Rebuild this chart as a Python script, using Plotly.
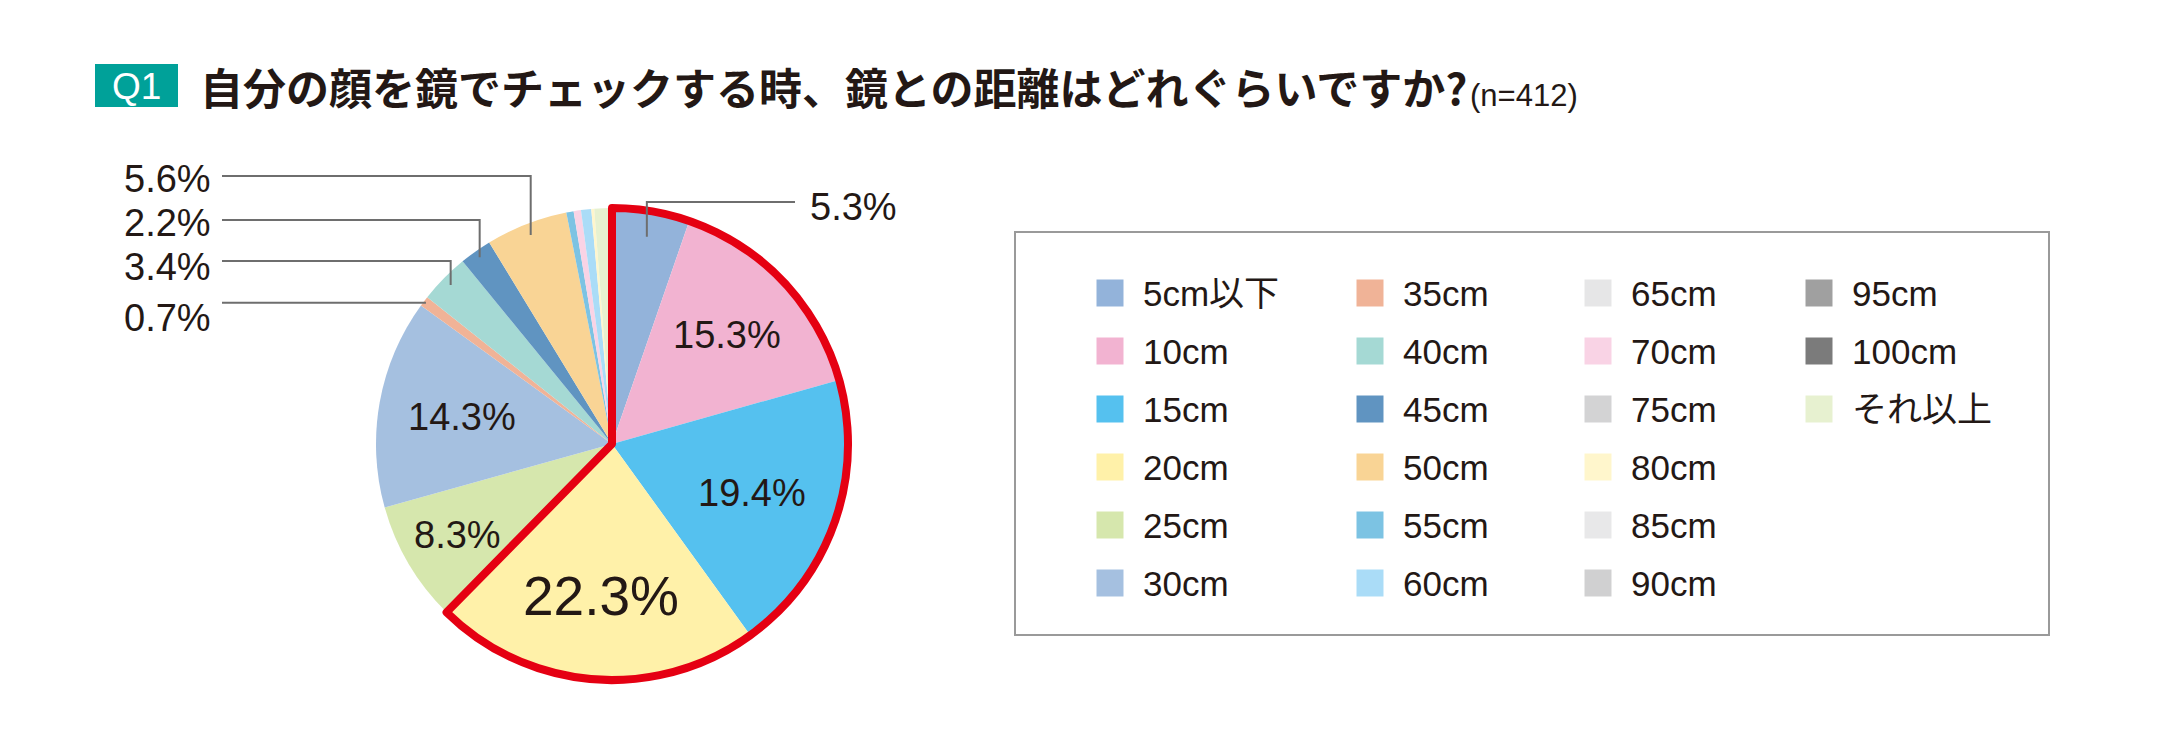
import math
import plotly.graph_objects as go

W, H = 2159, 740

# ---------------- data ----------------
title_text = "自分の顔を鏡でチェックする時、鏡との距離はどれぐらいですか?"
n_text = "(n=412)"
q_label = "Q1"

categories = ["5cm以下", "10cm", "15cm", "20cm", "25cm", "30cm", "35cm",
              "40cm", "45cm", "50cm", "55cm", "60cm", "65cm", "70cm",
              "75cm", "80cm", "85cm", "90cm", "95cm", "100cm", "それ以上"]
values = [5.3, 15.3, 19.4, 22.3, 8.3, 14.3, 0.7,
          3.4, 2.2, 5.6, 0.5, 0.7, 0.0, 0.5,
          0.0, 0.2, 0.0, 0.0, 0.0, 0.0, 1.2]
colors = ["#93b3da", "#f2b3d1", "#55c1ef", "#fff1a9", "#d6e7ad", "#a5c0e0", "#f0b397",
          "#a5d9d4", "#6094c1", "#f9d495", "#7cc3e3", "#aadcf7", "#e6e6e7", "#f9d3e5",
          "#d3d3d4", "#fff6cc", "#e8e8e9", "#d0d0d1", "#a0a0a0", "#7b7b7b", "#e7f1d0"]
# order in which the slices are drawn clockwise from 12 o'clock
draw_order = ["5cm以下", "10cm", "15cm", "20cm", "25cm", "30cm", "35cm",
              "40cm", "45cm", "50cm", "55cm", "70cm", "60cm", "65cm",
              "75cm", "80cm", "85cm", "90cm", "95cm", "100cm", "それ以上"]
highlighted = ["5cm以下", "10cm", "15cm", "20cm"]

# ---------------- style / layout ----------------
TXT = "#231815"
FONT = "Liberation Sans, Noto Sans CJK JP, sans-serif"
JFONT = "Noto Sans CJK JP, sans-serif"
RED = "#e50012"
LEAD = "#6e6e6e"
cx, cy, R = 612, 444, 236

inside_labels = {"10cm": (0.67, 38), "15cm": (0.63, 38), "20cm": (0.645, 55),
                 "25cm": (0.76, 38), "30cm": (0.645, 38)}
# category: (line y, label y, leader end radius fraction)
left_labels = [("50cm", 176, 179, 0.95), ("45cm", 220, 223, 0.97),
               ("40cm", 261, 267, 0.96), ("35cm", None, 318, 0.99)]
left_text_x, left_line_x = 122, 222
right_label = ("5cm以下", 202, 207, 0.89)
right_line_x, right_text_x = 795, 808

legend_rows = 6
legend_col_x = [1110, 1370, 1598, 1819]
legend_row_y = [293, 351, 409, 467, 525, 583]

val = dict(zip(categories, values))
col = dict(zip(categories, colors))
total = sum(values)

# mid angles (clockwise from top) in degrees
mid = {}
cum = 0.0
for c in draw_order:
    mid[c] = 360.0 * (cum + val[c] / 2) / total
    cum += val[c]


def polar(c, frac):
    a = math.radians(mid[c])
    return cx + frac * R * math.sin(a), cy - frac * R * math.cos(a)


def pct(c):
    return f"{val[c]:.1f}%"


dom_x = [(cx - R) / W, (cx + R) / W]
dom_y = [1 - (cy + R) / H, 1 - (cy - R) / H]

fig = go.Figure()

fig.add_trace(go.Pie(
    labels=draw_order, values=[val[c] for c in draw_order],
    marker=dict(colors=[col[c] for c in draw_order], line=dict(width=0)),
    sort=False, direction="clockwise", rotation=0,
    textinfo="none", hoverinfo="label+percent", showlegend=False,
    domain=dict(x=dom_x, y=dom_y),
))

hi_sum = sum(val[c] for c in highlighted)
fig.add_trace(go.Pie(
    labels=["highlight", "rest"], values=[hi_sum, total - hi_sum],
    marker=dict(colors=["rgba(0,0,0,0)", "rgba(0,0,0,0)"],
                line=dict(color=[RED, "rgba(0,0,0,0)"], width=[8, 0])),
    sort=False, direction="clockwise", rotation=0,
    textinfo="none", hoverinfo="skip", showlegend=False,
    domain=dict(x=dom_x, y=dom_y),
))

# legend swatches (column-major)
lx = [legend_col_x[i // legend_rows] for i in range(len(categories))]
ly = [legend_row_y[i % legend_rows] for i in range(len(categories))]
fig.add_trace(go.Scatter(
    x=lx, y=ly, mode="markers",
    marker=dict(symbol="square", size=27, color=colors, line=dict(width=0)),
    hoverinfo="skip", showlegend=False,
))

annotations = []
shapes = []

for c, x, y in zip(categories, lx, ly):
    annotations.append(dict(x=x + 31, y=y, xref="x", yref="y", text=c,
                            showarrow=False, xanchor="left", yanchor="middle",
                            font=dict(family=FONT, size=35, color=TXT)))

# inside labels
for c, (frac, size) in inside_labels.items():
    x, y = polar(c, frac)
    annotations.append(dict(x=x, y=y, xref="x", yref="y", text=pct(c),
                            showarrow=False, xanchor="center", yanchor="middle",
                            font=dict(family=FONT, size=size, color=TXT)))

# left outside labels with elbow leaders
for c, line_y, lab_y, frac in left_labels:
    ex, ey = polar(c, frac)
    if line_y is None:
        path = f"M {left_line_x},{ey} L {ex},{ey}"
    else:
        path = f"M {left_line_x},{line_y} L {ex},{line_y} L {ex},{ey}"
    shapes.append(dict(type="path", path=path, xref="x", yref="y",
                       line=dict(color=LEAD, width=2), layer="above"))
    annotations.append(dict(x=left_text_x, y=lab_y, xref="x", yref="y", text=pct(c),
                            showarrow=False, xanchor="left", yanchor="middle",
                            font=dict(family=FONT, size=38, color=TXT)))

c, line_y, lab_y, frac = right_label
ex, ey = polar(c, frac)
shapes.append(dict(type="path", path=f"M {ex},{ey} L {ex},{line_y} L {right_line_x},{line_y}",
                   xref="x", yref="y", line=dict(color=LEAD, width=2), layer="above"))
annotations.append(dict(x=right_text_x, y=lab_y, xref="x", yref="y", text=pct(c),
                        showarrow=False, xanchor="left", yanchor="middle",
                        font=dict(family=FONT, size=38, color=TXT)))

# legend frame
shapes.append(dict(type="rect", x0=1015, y0=232, x1=2049, y1=635, xref="x", yref="y",
                   line=dict(color="#9a9a9a", width=2), fillcolor="rgba(0,0,0,0)",
                   layer="below"))

# Q1 box + title
shapes.append(dict(type="rect", x0=95, y0=64, x1=178, y1=107, xref="x", yref="y",
                   line=dict(width=0), fillcolor="#00a199", layer="below"))
annotations.append(dict(x=136.5, y=86, xref="x", yref="y", text=q_label, showarrow=False,
                        xanchor="center", yanchor="middle",
                        font=dict(family=FONT, size=37, color="white")))
annotations.append(dict(x=198, y=86, xref="x", yref="y", text=title_text, showarrow=False,
                        xanchor="left", yanchor="middle",
                        font=dict(family=JFONT, size=43, color=TXT, weight="bold")))
annotations.append(dict(x=1468, y=95, xref="x", yref="y", text=n_text, showarrow=False,
                        xanchor="left", yanchor="middle",
                        font=dict(family=FONT, size=31, color=TXT)))

fig.update_layout(
    width=W, height=H, margin=dict(l=0, r=0, t=0, b=0),
    paper_bgcolor="white", plot_bgcolor="rgba(0,0,0,0)",
    xaxis=dict(range=[0, W], visible=False, fixedrange=True, domain=[0, 1]),
    yaxis=dict(range=[H, 0], visible=False, fixedrange=True, domain=[0, 1]),
    showlegend=False,
    annotations=annotations, shapes=shapes,
)

fig.write_html("out.html")
